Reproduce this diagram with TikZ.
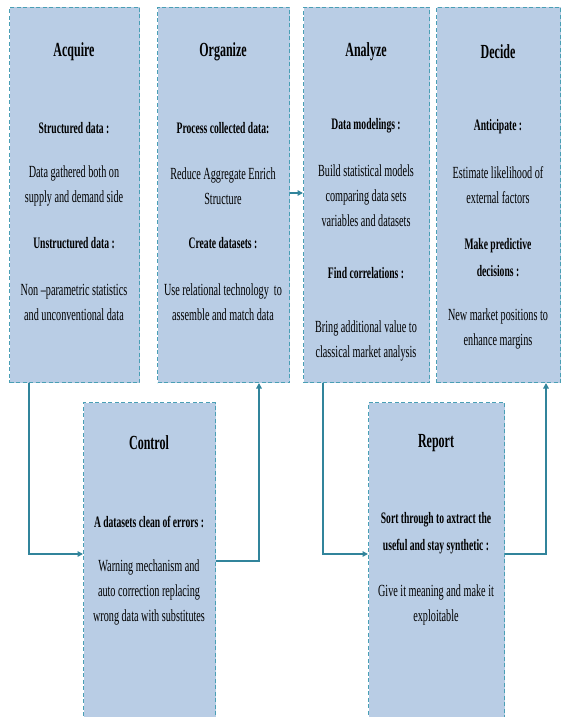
\documentclass[tikz,border=0pt]{standalone}
\usepackage{fontspec}
\setmainfont[FakeStretch=0.6]{Liberation Serif}
\usetikzlibrary{arrows.meta,positioning}
\definecolor{boxfill}{HTML}{B9CDE5}
\definecolor{boxline}{HTML}{4A9FB5}
\definecolor{flowline}{HTML}{31849B}
\tikzset{
  stage/.style={draw=boxline, fill=boxfill, dash pattern=on 4pt off 2.5pt,
    line width=1pt, anchor=north west, inner sep=0pt},
  ttl/.style={font=\bfseries\fontsize{20}{24}\selectfont},
  hd/.style={font=\bfseries\fontsize{16}{27}\selectfont, align=center},
  txt/.style={font=\fontsize{17}{25}\selectfont, align=center},
  flow/.style={draw=flowline, line width=1.6pt, -{Triangle[length=5.5pt,width=5.5pt]}}
}
\begin{document}
\begin{tikzpicture}[x=1pt,y=-1pt]
	 \useasboundingbox (0,0) rectangle (562,717);
	 \clip (0,0) rectangle (562,717);
	 % the six stages
	 \node[stage, minimum width=130pt, minimum height=375pt] (acq) at (9,7) {};
	 \node[stage, minimum width=132pt, minimum height=375pt] (org) at (157,7) {};
	 \node[stage, minimum width=126pt, minimum height=375pt] (ana) at (303,7) {};
	 \node[stage, minimum width=124pt, minimum height=375pt] (dec) at (436,7) {};
	 \node[stage, minimum width=132pt, minimum height=330pt] (ctl) at (83,402) {};
	 \node[stage, minimum width=136pt, minimum height=330pt] (rep) at (368,402) {};
	 \foreach \n/\x/\y/\t in {acq/74/52/Acquire, org/223/52/Organize, ana/366/52/Analyze,
	   dec/498/52/Decide, ctl/149/443/Control, rep/436/443/Report}
	   \node[ttl] (\n T) at (\x,\y) {\t};
	 % Acquire
	 \node[hd] (acqA) at (74,128) {Structured data :};
	 \node[txt] (acqB) at (74,186) {Data gathered both on\\supply and demand side};
	 \node[hd] (acqC) at (74,243) {Unstructured data :};
	 \node[txt] (acqD) at (74,302) {Non --parametric statistics\\and unconventional data};
	 % Organize
	 \node[hd] (orgA) at (223,128) {Process collected data:};
	 \node[txt] (orgB) at (223,186) {Reduce Aggregate Enrich\\Structure};
	 \node[hd] (orgC) at (223,243) {Create datasets :};
	 \node[txt] (orgD) at (223,302) {Use relational technology~~to\\assemble and match data};
	 % Analyze
	 \node[hd] (anaA) at (366,126) {Data modelings :};
	 \node[txt] (anaB) at (366,196) {Build statistical models\\comparing data sets\\variables and datasets};
	 \node[hd] (anaC) at (366,273) {Find correlations :};
	 \node[txt] (anaD) at (366,341) {Bring additional value to\\classical market analysis};
	 % Decide
	 \node[hd] (decA) at (498,127) {Anticipate :};
	 \node[txt] (decB) at (498,185) {Estimate likelihood of\\external factors};
	 \node[hd] (decC) at (498,258) {Make predictive\\decisions :};
	 \node[txt] (decD) at (498,329) {New market positions to\\enhance margins};
	 % Control
	 \node[hd] (ctlA) at (149,522) {A datasets clean of errors :};
	 \node[txt] (ctlB) at (149,592) {Warning mechanism and\\auto correction replacing\\wrong data with substitutes};
	 % Report
	 \node[hd] (repA) at (436,533) {Sort through to axtract the\\useful and stay synthetic :};
	 \node[txt] (repB) at (436,605) {Give it meaning and make it\\exploitable};
	 % flow between stages
	 \draw[flow] ([xshift=20pt]acq.south west) |- ([yshift=-152pt]ctl.north west);
	 \draw[flow] ([yshift=-159pt]ctl.north east) -| ([xshift=-31pt]org.south east);
	 \draw[flow] ([yshift=-186pt]org.north east) -- ([yshift=-186pt]ana.north west);
	 \draw[flow] ([xshift=20pt]ana.south west) |- ([yshift=-152pt]rep.north west);
	 \draw[flow] ([yshift=-152pt]rep.north east) -| ([xshift=-15pt]dec.south east);
      \end{tikzpicture}
\end{document}
